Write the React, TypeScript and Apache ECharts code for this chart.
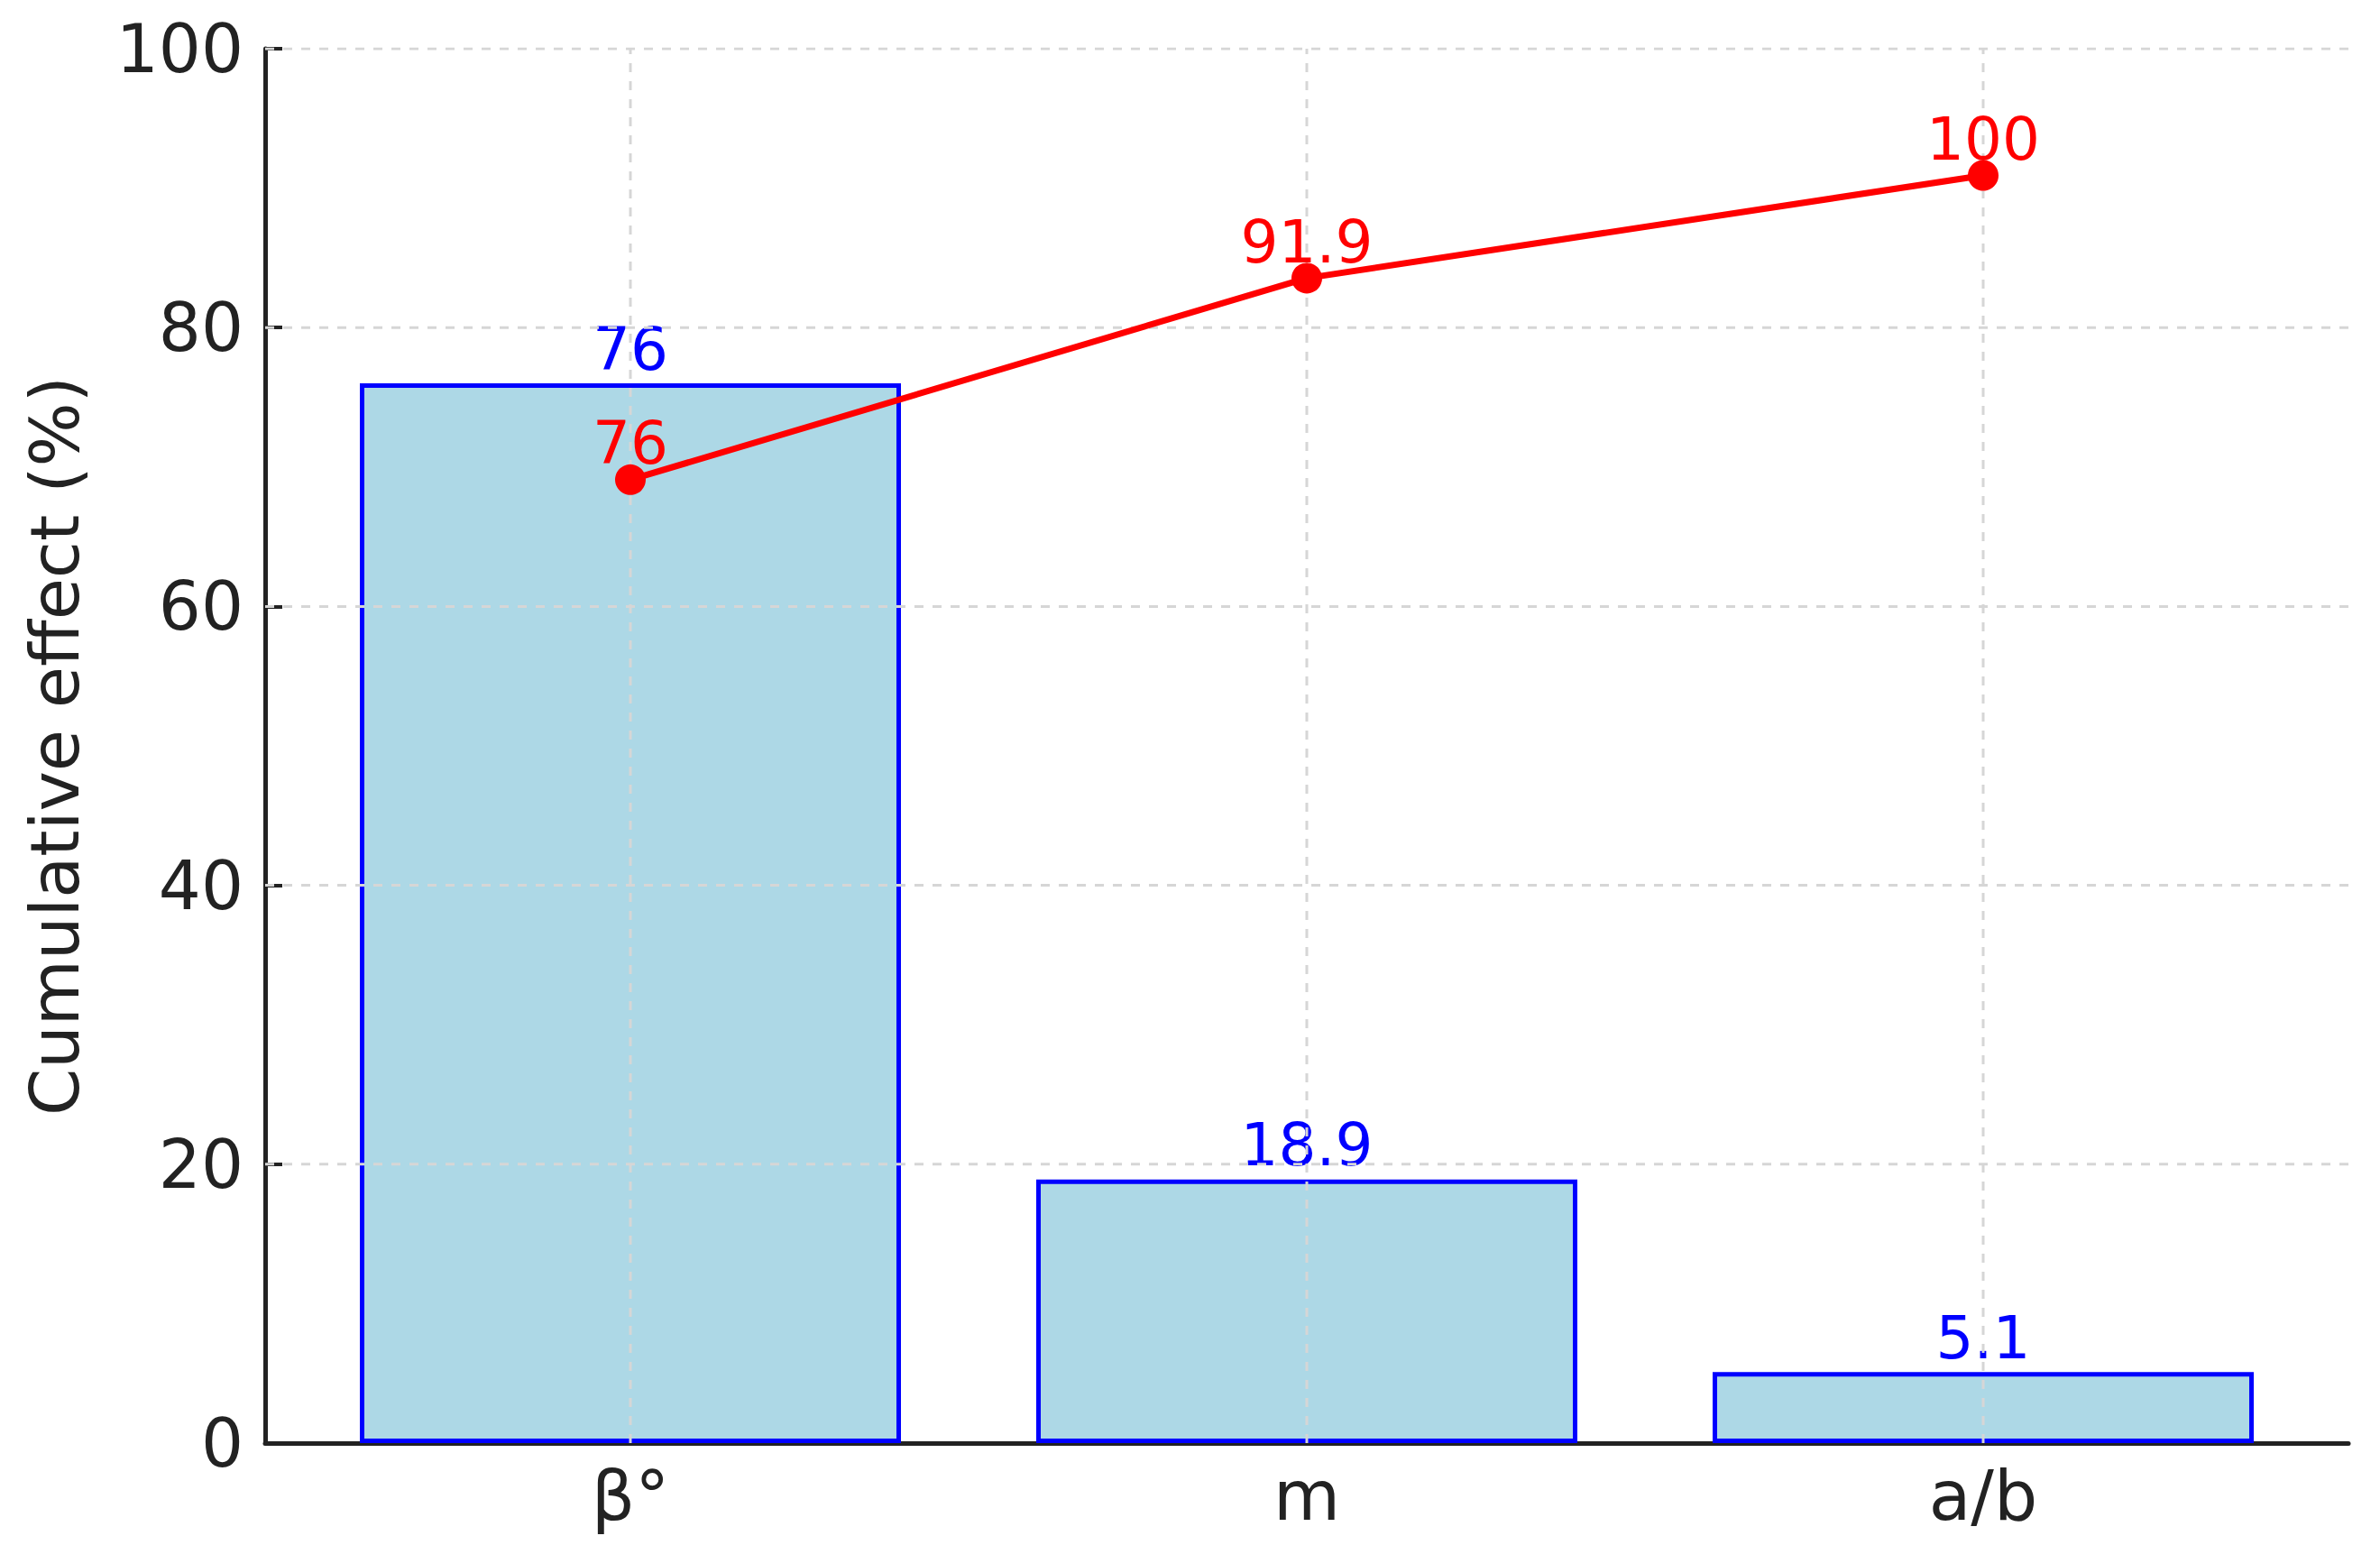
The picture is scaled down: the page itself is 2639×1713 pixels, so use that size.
import React, { useEffect, useRef } from "react";
import * as echarts from "echarts";

const categories = ["β°", "m", "a/b"];
const individualEffect = [76, 18.9, 5.1];
const cumulativeEffect = [76, 91.9, 100];
const yGridValues = [20, 40, 60, 80, 100];

const W = 2639;
const H = 1713;
const GRID_LEFT = 294;
const GRID_RIGHT = 35;
const GRID_TOP = 54;
const GRID_BOTTOM = 113;
const X_MIN = -0.54;
const X_MAX = 2.54;
const Y_MIN = 0;
const Y_MAX = 100;
const FONT = "DejaVu Sans";
const INK = "#222222";

export default function App() {
  const ref = useRef<HTMLDivElement>(null);

  useEffect(() => {
    if (!ref.current) return;
    const chart = echarts.init(ref.current, null, { renderer: "svg" });
    const plotWidth = W - GRID_LEFT - GRID_RIGHT;
    const unitPx = plotWidth / (X_MAX - X_MIN);
    const positions = categories.map((_, i) => i);

    const gridLineStyle = { color: "#d6d6d6", width: 3, type: [10, 10] as any };

    const gridSeries = [
      ...yGridValues.map((v) => ({
        type: "line",
        xAxisIndex: 0,
        yAxisIndex: 0,
        z: 3,
        silent: true,
        symbol: "none",
        lineStyle: gridLineStyle,
        data: [
          [X_MIN, v],
          [X_MAX, v],
        ],
      })),
      ...positions.map((p) => ({
        type: "line",
        xAxisIndex: 0,
        yAxisIndex: 0,
        z: 3,
        silent: true,
        symbol: "none",
        lineStyle: gridLineStyle,
        data: [
          [p, Y_MIN],
          [p, Y_MAX],
        ],
      })),
    ];

    const option: any = {
      animation: false,
      backgroundColor: "#ffffff",
      textStyle: { fontFamily: FONT },
      grid: { left: GRID_LEFT, right: GRID_RIGHT, top: GRID_TOP, bottom: GRID_BOTTOM, containLabel: false },
      xAxis: {
        type: "value",
        min: X_MIN,
        max: X_MAX,
        splitLine: { show: false },
        axisLine: { show: true, onZero: false, lineStyle: { color: INK, width: 5 } },
        axisTick: {
          show: true,
          inside: true,
          length: 19,
          customValues: positions,
          lineStyle: { color: INK, width: 4 },
        },
        axisLabel: {
          show: true,
          customValues: positions,
          formatter: (v: number) => categories[Math.round(v)] ?? "",
          fontSize: 76,
          fontFamily: FONT,
          color: INK,
          margin: 20,
        },
      },
      yAxis: [
        {
          type: "value",
          min: Y_MIN,
          max: Y_MAX,
          interval: 20,
          position: "left",
          name: "Cumulative effect (%)",
          nameLocation: "middle",
          nameGap: 196,
          nameTextStyle: { fontSize: 75, fontFamily: FONT, color: INK },
          splitLine: { show: false },
          axisLine: { show: true, onZero: false, lineStyle: { color: INK, width: 5 } },
          axisTick: { show: true, inside: true, length: 19, lineStyle: { color: INK, width: 4 } },
          axisLabel: { fontSize: 74, fontFamily: FONT, color: INK, margin: 24 },
        },
        {
          type: "value",
          min: 0,
          max: 110,
          position: "right",
          show: false,
          axisLine: { show: false, onZero: false },
          axisTick: { show: false },
          axisLabel: { show: false },
          splitLine: { show: false },
        },
      ],
      series: [
        {
          type: "bar",
          xAxisIndex: 0,
          yAxisIndex: 0,
          z: 2,
          barWidth: unitPx * 0.8,
          data: individualEffect.map((v, i) => [i, v]),
          itemStyle: { color: "#ADD8E6", borderColor: "#0000FF", borderWidth: 5 },
          label: {
            show: true,
            position: "top",
            distance: 5,
            color: "#0000FF",
            fontSize: 66,
            fontFamily: FONT,
            formatter: (p: any) => String(p.value[1]),
          },
        },
        ...gridSeries,
        {
          type: "line",
          xAxisIndex: 0,
          yAxisIndex: 1,
          z: 10,
          data: cumulativeEffect.map((v, i) => [i, v]),
          symbol: "circle",
          symbolSize: 34,
          lineStyle: { color: "#FF0000", width: 7 },
          itemStyle: { color: "#FF0000" },
          label: {
            show: true,
            position: "top",
            distance: 0,
            offset: [0, 10],
            color: "#FF0000",
            fontSize: 66,
            fontFamily: FONT,
            formatter: (p: any) => String(p.value[1]),
          },
        },
      ],
    };

    chart.setOption(option);
    return () => chart.dispose();
  }, []);

  return (
    <div
      ref={ref}
      style={{ position: "fixed", left: 0, top: 0, width: W, height: H, background: "#fff" }}
    />
  );
}
